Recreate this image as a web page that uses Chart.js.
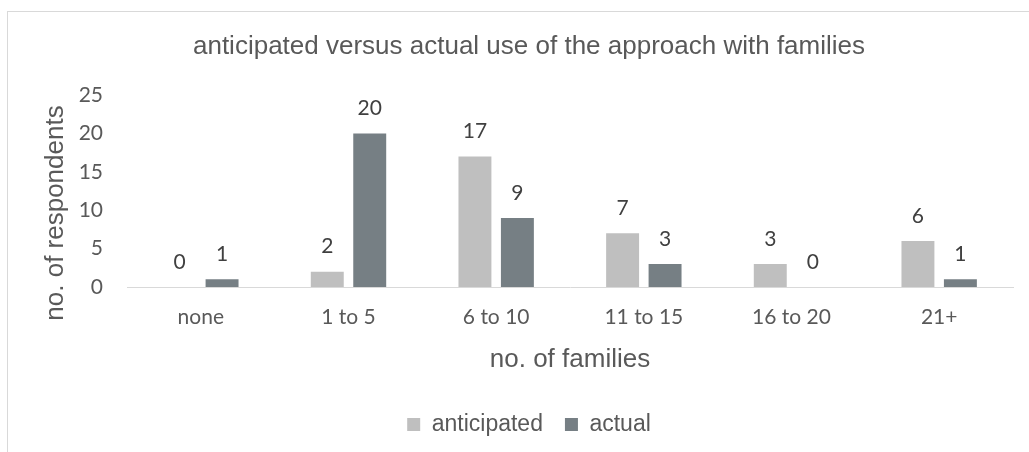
<!DOCTYPE html>
<html><head><meta charset="utf-8">
<script src="https://cdn.jsdelivr.net/npm/chart.js@4/dist/chart.umd.min.js"></script>
<style>
html,body{margin:0;padding:0;background:#fff;overflow:hidden}
#wrap{position:absolute;left:0;top:0;width:1029px;height:452px}
#frame{position:absolute;left:7px;top:11px;width:1100px;height:500px;border:1px solid #d9d9d9;box-sizing:border-box}
canvas{position:absolute;left:0;top:0}
</style></head><body>
<div id="wrap"><div id="frame"></div><canvas id="c" width="1029" height="452"></canvas></div>
<script>
const categories = ["none", "1 to 5", "6 to 10", "11 to 15", "16 to 20", "21+"];
const anticipated = [0, 2, 17, 7, 3, 6];
const actual = [1, 20, 9, 3, 0, 1];
const yTicks = [0, 5, 10, 15, 20, 25];
const yTitle = "no. of respondents";

const valueLabels = {
  id: 'valueLabels',
  afterDatasetsDraw(chart) {
    const ctx = chart.ctx;
    ctx.save();
    ctx.font = '21px Lato';
    ctx.fillStyle = '#404040';
    ctx.textAlign = 'center';
    ctx.textBaseline = 'middle';
    chart.data.datasets.forEach((ds, i) => {
      chart.getDatasetMeta(i).data.forEach((bar, j) => {
        ctx.fillText(String(ds.data[j]), bar.x, bar.y - 25);
      });
    });
    ctx.restore();
  }
};

const yAxisTitle = {
  id: 'yAxisTitle',
  afterDraw(chart) {
    const ctx = chart.ctx;
    ctx.save();
    ctx.translate(63, 213);
    ctx.rotate(-Math.PI / 2);
    ctx.font = '26px "Liberation Sans", Arial';
    ctx.fillStyle = '#595959';
    ctx.textAlign = 'center';
    ctx.textBaseline = 'alphabetic';
    ctx.fillText(yTitle, 0, 0);
    ctx.restore();
  }
};

new Chart(document.getElementById('c'), {
  type: 'bar',
  data: {
    labels: categories,
    datasets: [
      { label: 'anticipated', data: anticipated, backgroundColor: '#bfbfbf' },
      { label: 'actual', data: actual, backgroundColor: '#767f84' }
    ]
  },
  options: {
    responsive: false,
    animation: false,
    devicePixelRatio: 1,
    layout: { padding: { left: 45, right: 16, top: 0, bottom: 6 } },
    datasets: { bar: { categoryPercentage: 0.575, barPercentage: 0.776 } },
    plugins: {
      title: {
        display: true,
        text: 'anticipated versus actual use of the approach with families',
        color: '#595959',
        font: { family: '"Liberation Sans", Arial', size: 26, weight: 'normal' },
        padding: { top: 31, bottom: 33 }
      },
      legend: {
        position: 'bottom',
        labels: {
          color: '#595959',
          font: { family: '"Liberation Sans", Arial', size: 23 },
          boxWidth: 13, boxHeight: 13, padding: 22
        }
      },
      tooltip: { enabled: false }
    },
    scales: {
      x: {
        grid: { display: false, drawTicks: false },
        border: { display: true, color: '#d9d9d9', width: 1 },
        ticks: { color: '#595959', font: { family: 'Lato', size: 21 }, padding: 18 },
        title: { display: true, text: 'no. of families', color: '#595959',
          font: { family: '"Liberation Sans", Arial', size: 26 }, padding: { top: 8, bottom: 16 } },
        afterFit(s) { s.height = 104; }
      },
      y: {
        min: 0, max: 25,
        afterBuildTicks(s) { s.ticks = yTicks.map(v => ({ value: v })); },
        grid: { display: false, drawTicks: false },
        border: { display: false },
        ticks: { color: '#595959', font: { family: 'Lato', size: 21 }, padding: 24 },
        title: { display: false },
        afterFit(s) { s.width = 82; }
      }
    }
  },
  plugins: [valueLabels, yAxisTitle]
});
</script>
</body></html>
